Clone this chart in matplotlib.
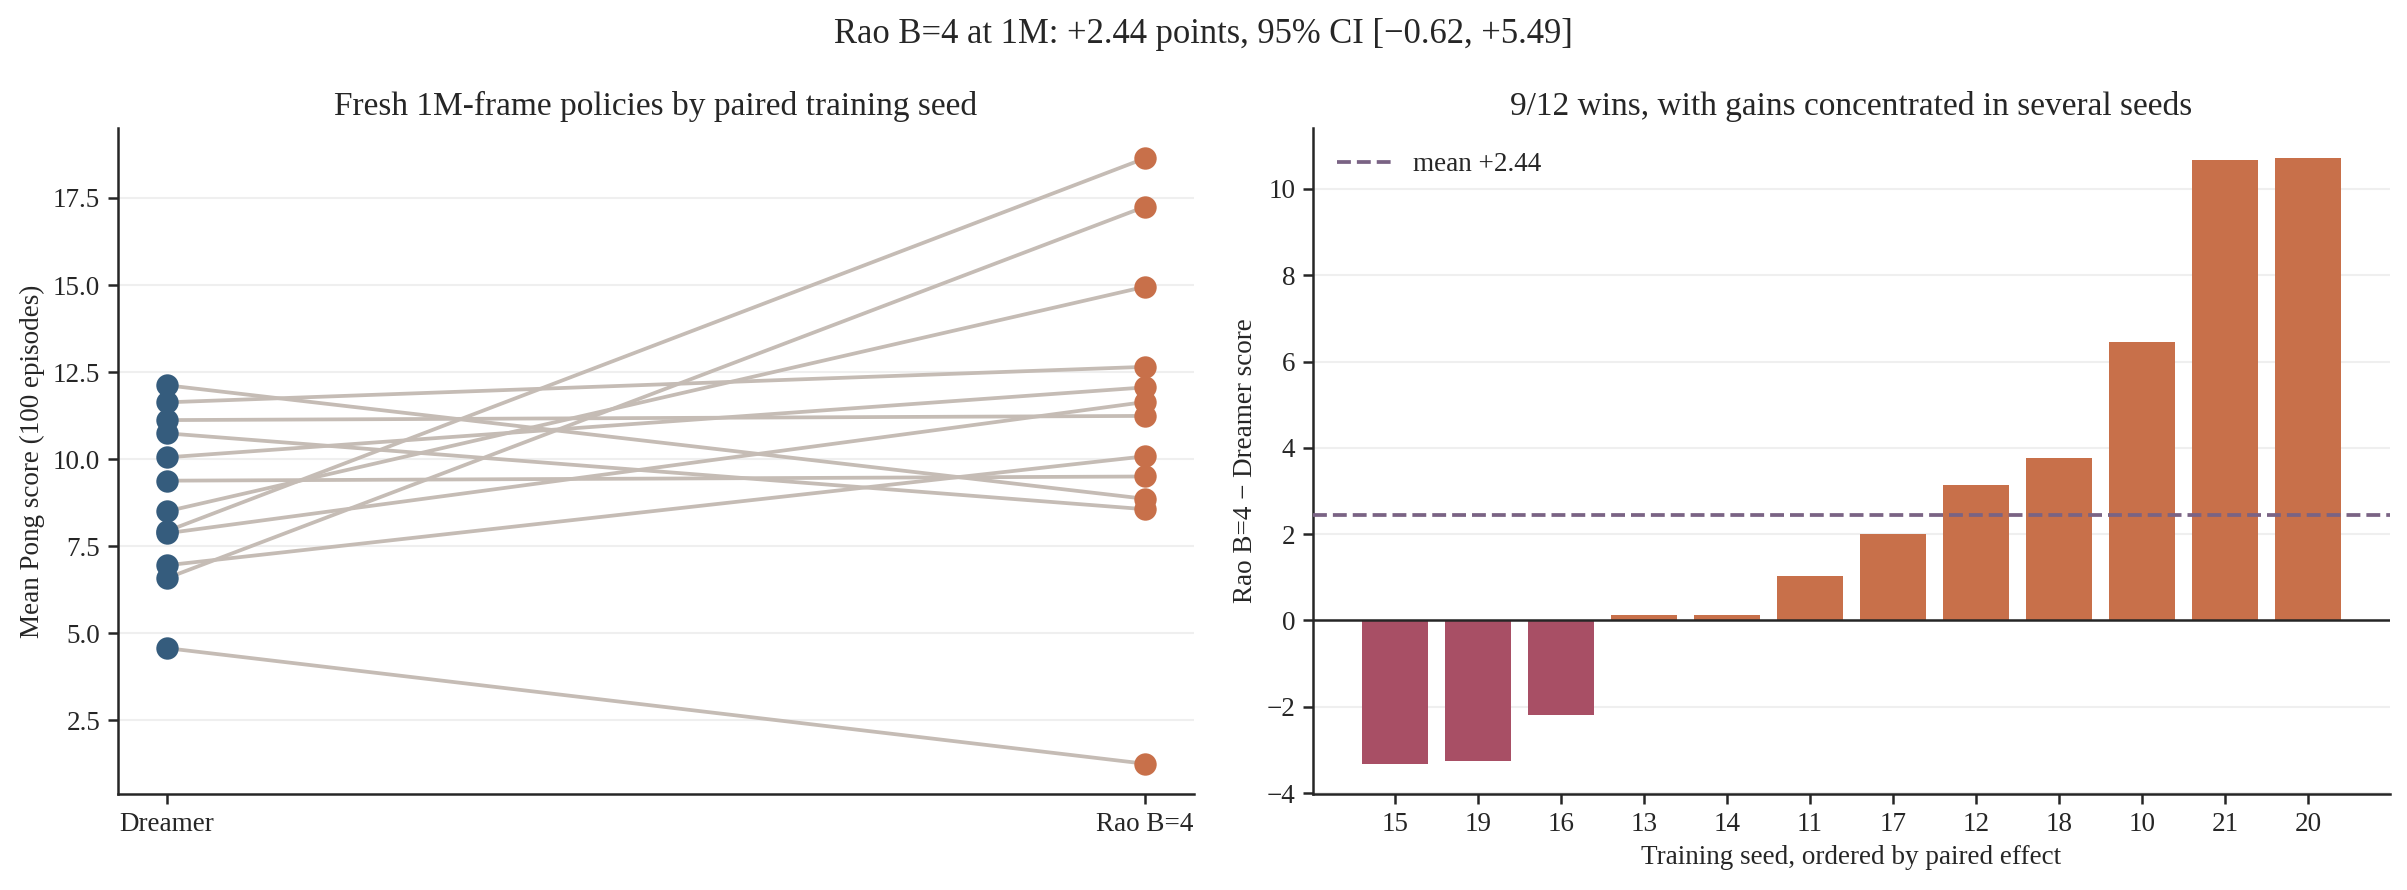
import matplotlib
matplotlib.use("Agg")
import matplotlib.pyplot as plt
import numpy as np

# ---- data ----
seeds = [15, 19, 16, 13, 14, 11, 17, 12, 18, 10, 21, 20]
dreamer = [4.57, 12.12, 10.74, 11.12, 9.38, 11.63, 10.05, 6.95, 7.87, 8.50, 6.58, 7.93]
rao = [1.25, 8.86, 8.56, 11.24, 9.50, 12.65, 12.06, 10.08, 11.64, 14.95, 17.25, 18.64]
methods = ["Dreamer", "Rao B=4"]
ci_low, ci_high = -0.62, 5.49

plt.rcParams['font.family'] = ['Liberation Serif', 'DejaVu Serif']
plt.rcParams['text.color'] = '#262626'
plt.rcParams['axes.labelcolor'] = '#262626'
plt.rcParams['xtick.color'] = '#262626'
plt.rcParams['ytick.color'] = '#262626'
plt.rcParams['axes.edgecolor'] = '#262626'

C_DREAM = '#355c7d'
C_RAO = '#c8704a'
C_NEG = '#a84f65'
C_LINE = '#c5bcb5'
C_MEAN = '#7a6384'

dreamer = np.array(dreamer)
rao = np.array(rao)
diff = rao - dreamer
mean = diff.mean()
wins = int((diff > 0).sum())

fig = plt.figure(figsize=(2407 / 150, 890 / 150), dpi=150)
ax1 = fig.add_axes([118 / 2407, 1 - 794 / 890, (1194 - 118) / 2407, (794 - 128) / 890])
ax2 = fig.add_axes([1313 / 2407, 1 - 794 / 890, (2390 - 1313) / 2407, (794 - 128) / 890])

for d, r in zip(dreamer, rao):
    ax1.plot([0, 1], [d, r], color=C_LINE, lw=1.8, zorder=1)
ax1.scatter(np.zeros(len(dreamer)), dreamer, s=95, color=C_DREAM, zorder=3)
ax1.scatter(np.ones(len(rao)), rao, s=95, color=C_RAO, zorder=3)
ax1.set_xticks([0, 1])
ax1.set_xticklabels(methods)
ax1.set_ylabel("Mean Pong score (100 episodes)", fontsize=13)
ax1.set_title("Fresh 1M-frame policies by paired training seed", fontsize=16)
ax1.yaxis.grid(True, color='#efefef', lw=1)
ax1.set_axisbelow(True)

x = np.arange(len(seeds))
colors = [C_RAO if v > 0 else C_NEG for v in diff]
ax2.bar(x, diff, width=0.8, color=colors, zorder=2)
ax2.axhline(0, color='#262626', lw=1.2, zorder=3)
ax2.axhline(mean, color=C_MEAN, ls='--', lw=1.8, zorder=4, label=f"mean {mean:+.2f}")
ax2.set_xticks(x)
ax2.set_xticklabels([str(s) for s in seeds])
ax2.set_xlabel("Training seed, ordered by paired effect", fontsize=13)
ax2.set_ylabel("Rao B=4 − Dreamer score", fontsize=13)
ax2.set_title(f"{wins}/{len(seeds)} wins, with gains concentrated in several seeds", fontsize=16)
ax2.yaxis.grid(True, color='#efefef', lw=1)
ax2.set_axisbelow(True)
ax2.legend(loc='upper left', frameon=False, fontsize=13)

for ax in (ax1, ax2):
    ax.spines['top'].set_visible(False)
    ax.spines['right'].set_visible(False)
    ax.tick_params(labelsize=13, length=5, width=1.2)
    for s in ('left', 'bottom'):
        ax.spines[s].set_linewidth(1.2)

fig.suptitle(f"Rao B=4 at 1M: {mean:+.2f} points, 95% CI [{ci_low:+.2f}, {ci_high:+.2f}]".replace('-', '−'),
             fontsize=16.6, y=0.98)
fig.savefig("out.png", dpi=150)
